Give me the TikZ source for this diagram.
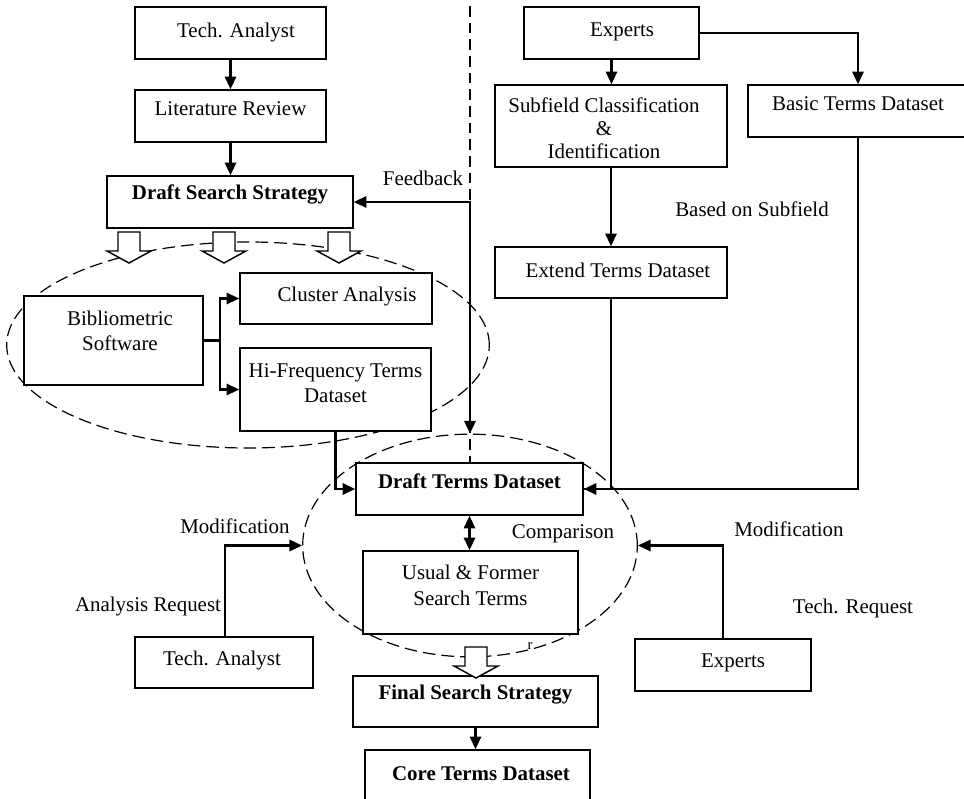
\documentclass[tikz,border=0pt]{standalone}
\usepackage{fontspec}
\setmainfont{Liberation Serif}
\usetikzlibrary{arrows.meta,shapes.geometric,fit,calc}
\newcommand\dfont{\fontsize{15.7}{19}\selectfont}
\newcommand\myharrow[3]{%
  \draw[hollow] (#1-11,#2) -- (#1-11,#3-12) -- (#1-22,#3-12) -- (#1,#3) -- (#1+22,#3-12) -- (#1+11,#3-12) -- (#1+11,#2) -- cycle;}
\tikzset{
  box/.style={draw, line width=1.2pt, fill=white, inner sep=0pt, align=center, font=\dfont},
  bbox/.style={box, font=\dfont\bfseries},
  lbl/.style={inner sep=0pt, align=center, font=\dfont},
  blbl/.style={lbl, font=\dfont\bfseries},
  conn/.style={line width=1.6pt, -{Triangle[length=9.5pt,width=8.5pt]}},
  dconn/.style={line width=1.6pt, {Triangle[length=9.5pt,width=8.5pt]}-{Triangle[length=9.5pt,width=8.5pt]}},
  plainline/.style={line width=1.6pt},
  dashell/.style={draw, ellipse, dash pattern=on 9.5pt off 4.5pt, line width=0.9pt, inner sep=0pt},
  dashvert/.style={dash pattern=on 8pt off 4.5pt, line width=0.9pt},
  hollow/.style={draw, line width=1.1pt, fill=white},
}
\begin{document}
\begin{tikzpicture}[x=0.75pt,y=-0.75pt]
\useasboundingbox (0,0) rectangle (964,799);

% dashed regions
\node[dashell, minimum width=362pt, minimum height=154.5pt] (e1) at (248,345) {};
\node[dashell, minimum width=251pt, minimum height=167pt] (e2) at (470,545.5) {};

% left column boxes
\node[box, fit={(135,7) (326,59)}] (ta1) {};
\node[lbl] (ta1t) at (236,32) {Tech. Analyst};
\node[box, fit={(135,90) (326,142)}] (lr) {Literature Review};
\node[bbox, fit={(107,176) (353,228)}] (dss) {Draft Search Strategy};

\node[box, fit={(24,296) (203,385)}] (bib) {};
\node[lbl] (bibt) at (120,331) {Bibliometric\\Software};
\node[box, fit={(240,273) (432,324)}] (ca) {};
\node[lbl] (cat) at (347,296) {Cluster Analysis};
\node[box, fit={(240,348) (431,431)}] (hf) {};
\node[lbl] (hft) at (335.5,383) {Hi-Frequency Terms\\Dataset};

% right column boxes
\node[box, fit={(524,7) (699,59)}] (exp1) {};
\node[lbl] (exp1t) at (622,32) {Experts};
\node[box, fit={(495,85) (727,167)}] (sub) {};
\node[lbl, text depth=0pt] (subt) at (604,128) {Subfield Classification\\[-1.5pt]\&\\[-1.5pt]Identification};
\node[box, fit={(748,85) (968,137)}] (btd) {Basic Terms Dataset};
\node[box, fit={(495,247) (727,298)}] (etd) {};
\node[lbl] (etdt) at (618,270) {Extend Terms Dataset};

% centre boxes
\node[bbox, fit={(356,463) (583,515)}] (dtd) {Draft Terms Dataset};
\node[box, fit={(363,551) (578,634)}] (usf) {Usual \& Former\\Search Terms};
\node[box, fit={(135,637) (313,688)}] (ta2) {};
\node[lbl] (ta2t) at (222,660) {Tech. Analyst};
\node[box, fit={(635,639) (811,691)}] (exp2) {};
\node[lbl] (exp2t) at (733,663) {Experts};
\node[bbox, fit={(353,676) (598,727)}] (fss) {Final Search Strategy};
\node[box, fit={(365,750) (590,815)}] (ctd) {};
\node[blbl] (ctdt) at (481,774) {Core Terms Dataset};

% labels
\node[lbl] (fb) at (423,178) {Feedback};
\node[lbl] (bos) at (752,209) {Based on Subfield};
\node[lbl] (cmp) at (563,534) {Comparison};
\node[lbl] (modl) at (235,526) {Modification};
\node[lbl] (modr) at (789,529) {Modification};
\node[lbl] (areq) at (148,606) {Analysis Request};
\node[lbl] (treq) at (853,608) {Tech. Request};
\node[lbl, font=\fontsize{11}{12}\selectfont] (rr) at (530,646) {r};

% dashed separator
\coordinate (dtop) at (470,6);
\draw[dashvert] (dtop) -- (dtop |- dtd.north);

% connectors
\draw[conn] (ta1.south) -- (lr.north);
\draw[conn] (lr.south) -- (lr.south |- dss.north);
\draw[dconn] (dss.east) -| (e2.north);

\myharrow{129}{232}{263}
\myharrow{224}{232}{263}
\myharrow{339}{232}{263}

\coordinate (j1) at (220,340);
\draw[plainline] (bib.east) -- (bib.east -| j1);
\draw[conn] (bib.east -| j1) |- (ca.west);
\draw[conn] (bib.east -| j1) |- (hf.west);
\draw[conn] (hf.south) |- (dtd.west);
\draw[dconn] (dtd.south) -- (dtd.south |- usf.north);

\draw[conn] (exp1.south) -- (exp1.south |- sub.north);
\draw[conn] (exp1.east) -| (btd.north);
\draw[conn] (sub.south) -- (sub.south |- etd.north);
\draw[plainline] (etd.south) |- (dtd.east);
\draw[conn] (btd.south) |- (dtd.east);

\draw[conn] (ta2.north -| 225,0) |- (e2.west);
\draw[conn] (exp2.north) |- (e2.east);

\myharrow{476}{647}{678}
\draw[conn] (fss.south) -- (fss.south |- ctd.north);
\end{tikzpicture}
\end{document}
